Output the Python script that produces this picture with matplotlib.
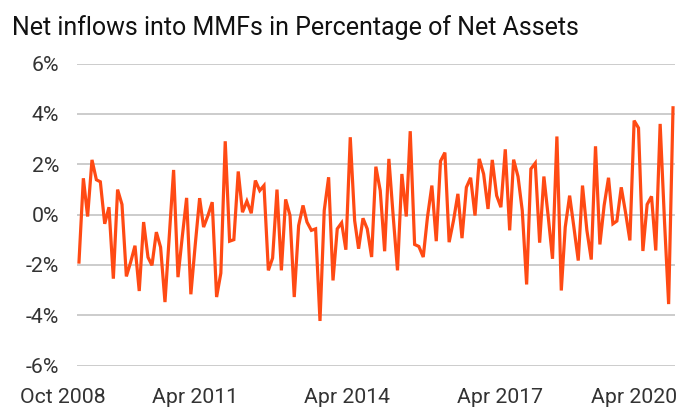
import numpy as np
import pandas as pd
import matplotlib
matplotlib.use("Agg")
import matplotlib.pyplot as plt
import matplotlib.transforms as mtransforms

# --- data: monthly net inflows, % of net assets (Oct 2008 - Apr 2020) ---
start_month = "2008-10-01"
net_inflows = [
    -1.89, 1.44, -0.08, 2.17, 1.38, 1.30, -0.37, 0.29, -2.55, 0.99,
    0.40, -2.46, -1.90, -1.24, -3.04, -0.30, -1.70, -2.02, -0.70, -1.30,
    -3.48, -0.90, 1.77, -2.49, -0.90, 0.66, -3.17, -1.20, 0.65, -0.50,
    -0.04, 0.49, -3.28, -2.33, 2.91, -1.06, -1.00, 1.71, 0.09, 0.53,
    0.05, 1.35, 0.95, 1.15, -2.22, -1.73, 0.99, -2.22, 0.60, -0.04,
    -3.28, -0.44, 0.36, -0.30, -0.63, -0.57, -4.23, 0.16, 1.48, -2.62,
    -0.57, -0.33, -1.40, 3.07, -0.24, -1.36, -0.15, -0.57, -1.69, 1.90,
    0.95, -1.46, 2.21, -0.10, -2.22, 1.61, -0.08, 3.31, -1.19, -1.27,
    -1.69, -0.10, 1.15, -1.06, 2.12, 2.46, -1.10, -0.24, 0.82, -0.94,
    1.08, 1.46, -0.04, 2.21, 1.61, 0.22, 2.17, 0.75, 0.29, 2.59,
    -0.63, 2.18, 1.51, 0.16, -2.78, 1.81, 2.04, -1.12, 1.51, -0.10,
    -1.76, 3.10, -3.02, -0.50, 0.75, -0.50, -1.83, 1.15, -0.63, -1.79,
    2.71, -1.19, 0.36, 1.46, -0.37, -0.26, 1.08, 0.09, -1.03, 3.73,
    3.44, -1.45, 0.40, 0.72, -1.43, 3.60, -0.30, -3.56, 4.24,
]
y_ticks = [-6, -4, -2, 0, 2, 4, 6]
x_tick_dates = ["2008-10-01", "2011-04-01", "2014-04-01", "2017-04-01", "2020-04-01"]
x_tick_labels = ["Oct 2008", "Apr 2011", "Apr 2014", "Apr 2017", "Apr 2020"]

dates = pd.date_range(start_month, periods=len(net_inflows), freq="MS")

plt.rcParams["font.family"] = ["Roboto", "DejaVu Sans"]

W, H = 679, 409
fig = plt.figure(figsize=(W / 100, H / 100), dpi=100)
ax = fig.add_axes([77 / W, 1 - 365.5 / H, (675 - 77) / W, (365.5 - 63.5) / H])

ax.plot(dates, net_inflows, color="#ff4a14", linewidth=2.3, solid_joinstyle="miter",
        zorder=3)

ax.set_ylim(-6, 6)
ax.set_yticks(y_ticks)
ax.set_yticklabels([f"{v}%" for v in y_ticks])
ax.set_xlim(dates[0] - pd.Timedelta(days=14), dates[-1] + pd.Timedelta(days=14))
ax.set_xticks(pd.to_datetime(x_tick_dates))
ax.set_xticklabels(x_tick_labels)

ax.grid(axis="y", color="#cccccc", linewidth=1.4)
ax.grid(axis="x", visible=False)
for s in ax.spines.values():
    s.set_visible(False)
ax.tick_params(axis="both", length=0, labelsize=15.3, labelcolor="#333333")
ax.tick_params(axis="y", pad=13)
ax.tick_params(axis="x", pad=16)

# shift x labels to where the reference draws them
label_shift = [-16.6, -13.3, -16.4, -17.9, -39.3]
for lab, dx in zip(ax.get_xticklabels(), label_shift):
    lab.set_transform(lab.get_transform() + mtransforms.ScaledTranslation(dx / 100, 0, fig.dpi_scale_trans))

fig.text(12 / W, 1 - 35 / H, "Net inflows into MMFs in Percentage of Net Assets",
         fontsize=18, color="#111111", ha="left", va="baseline")

fig.savefig("out.png", dpi=100)
